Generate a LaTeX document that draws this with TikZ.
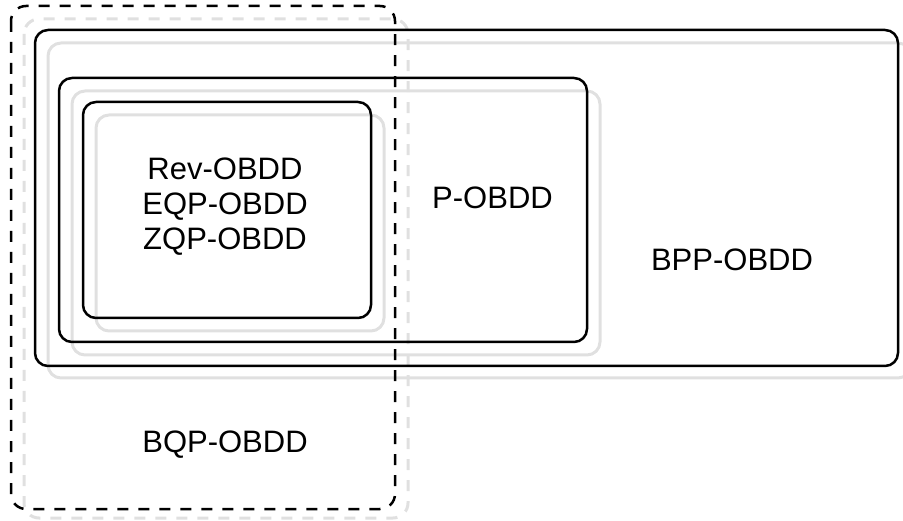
\documentclass[tikz,border=0pt]{standalone}
\usepackage{fontspec}
\setmainfont{Liberation Sans}
\definecolor{shadowgray}{RGB}{224,224,224}
\begin{document}
\begin{tikzpicture}[x=1pt,y=-1pt,
  classbox/.style={draw=black,line width=2.5pt,rounded corners=13pt},
  classshadow/.style={draw=shadowgray,line width=3pt,rounded corners=13pt},
  quantumbox/.style={draw=black,line width=2.5pt,rounded corners=15pt,dash pattern=on 11pt off 10pt},
  quantumshadow/.style={draw=shadowgray,line width=3pt,rounded corners=15pt,dash pattern=on 11pt off 10pt},
  label/.style={font=\fontsize{31}{35}\selectfont,inner sep=0pt,align=center}]
\useasboundingbox (0,0) rectangle (903,521);
\clip (0,0) rectangle (903,521);

% soft outlines offset behind each class
\draw[quantumshadow] (24,19) rectangle (408,518);
\draw[classshadow] (48,43) rectangle (911,378);
\draw[classshadow] (72,91) rectangle (600,355);
\draw[classshadow] (96,115) rectangle (384,331);

% nested complexity classes
\draw[classbox] (35,30) rectangle (898,366);
\draw[classbox] (59,78) rectangle (587,342);
\draw[classbox] (83,102) rectangle (371,318);
\draw[quantumbox] (11,6) rectangle (395,509);

% class names
\node[label,anchor=base] (inner) at (225,250) {Rev-OBDD\\EQP-OBDD\\ZQP-OBDD};
\node[label,anchor=base] (pobdd) at (492.5,209) {P-OBDD};
\node[label,anchor=base] (bpp) at (732,271) {BPP-OBDD};
\node[label,anchor=base] (bqp) at (225,453) {BQP-OBDD};
\end{tikzpicture}
\end{document}
